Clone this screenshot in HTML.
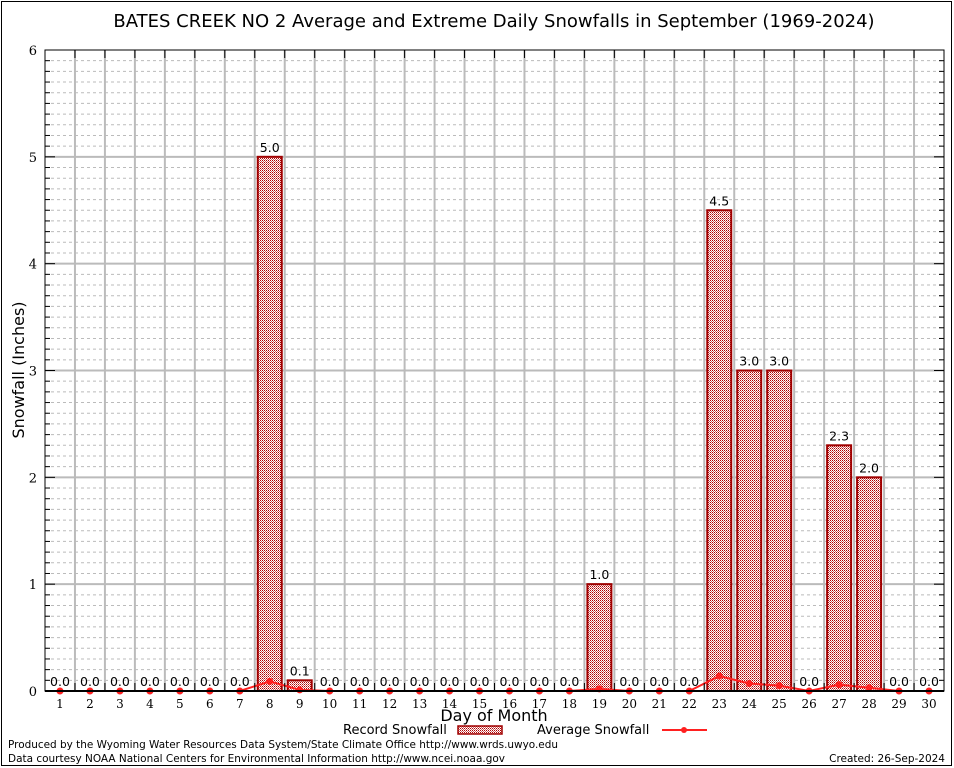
<!DOCTYPE html>
<html><head><meta charset="utf-8"><style>
html,body{margin:0;padding:0;background:#fff;}
svg{display:block;font-family:"DejaVu Sans","Liberation Sans",sans-serif;}
</style></head><body>
<svg id="chart" width="954" height="768" xmlns="http://www.w3.org/2000/svg">
<defs>
<pattern id="chk" width="2" height="2" patternUnits="userSpaceOnUse">
<rect width="2" height="2" fill="#fff"/><rect width="1" height="1" fill="#b00000"/><rect x="1" y="1" width="1" height="1" fill="#b00000" opacity="0.6"/>
</pattern>
</defs>
<rect x="1.5" y="1.5" width="950" height="764" fill="none" stroke="#000"/>
<text x="494" y="27" font-size="18" text-anchor="middle" fill="#000">BATES CREEK NO 2 Average and Extreme Daily Snowfalls in September (1969-2024)</text>
<g id="grid"></g>
<g id="bars"></g>
<g id="avg"></g>
<g id="axes"></g>
<text x="24" y="370" font-size="16" text-anchor="middle" transform="rotate(-90 24 370)">Snowfall (Inches)</text>
<text x="494" y="721" font-size="16" text-anchor="middle">Day of Month</text>
<g>
<text x="343" y="734" font-size="13">Record Snowfall</text>
<rect x="458" y="726" width="44" height="8" fill="url(#chk)" stroke="#a00000" stroke-width="1.5"/>
<text x="537" y="734" font-size="13">Average Snowfall</text>
<line x1="662" y1="730" x2="707" y2="730" stroke="#ff2020" stroke-width="2"/>
<circle cx="684" cy="730" r="3" fill="#ff2020"/>
</g>
<text x="8" y="748" font-size="10.5" textLength="550" lengthAdjust="spacingAndGlyphs">Produced by the Wyoming Water Resources Data System/State Climate Office http://www.wrds.uwyo.edu</text>
<text x="8" y="762" font-size="10.5" textLength="497" lengthAdjust="spacingAndGlyphs">Data courtesy NOAA National Centers for Environmental Information http://www.ncei.noaa.gov</text>
<text x="945" y="762" font-size="10.5" text-anchor="end">Created: 26-Sep-2024</text>
</svg>
<script>
const days = [1,2,3,4,5,6,7,8,9,10,11,12,13,14,15,16,17,18,19,20,21,22,23,24,25,26,27,28,29,30];
const recordValues = [0,0,0,0,0,0,0,5.0,0.1,0,0,0,0,0,0,0,0,0,1.0,0,0,0,4.5,3.0,3.0,0,2.3,2.0,0,0];
const averageValues = [0,0,0,0,0,0,0,0.09,0.01,0,0,0,0,0,0,0,0,0,0.02,0,0,0,0.14,0.07,0.05,0,0.06,0.03,0,0];
const yTicks = [0,1,2,3,4,5,6];

const NS="http://www.w3.org/2000/svg";
const X0=45,X1=944,Y0=691,YT=50,YMAX=6;
const step=(X1-X0)/days.length;
function xs(d){return X0+(d-0.5)*step;}
function ys(v){return Y0-(v/YMAX)*(Y0-YT);}
function mk(tag,attrs,parent){const e=document.createElementNS(NS,tag);for(const k in attrs)e.setAttribute(k,attrs[k]);parent.appendChild(e);return e;}
const grid=document.getElementById('grid'),bars=document.getElementById('bars'),avg=document.getElementById('avg'),axes=document.getElementById('axes');

for(let i=1;i<YMAX*10;i++){if(i%10===0)continue;const y=ys(i/10);
 const l=mk('line',{x1:X0,x2:X1,y1:y,y2:y,stroke:'#bbb','stroke-dasharray':'3,3','stroke-width':1},grid);
 
 
 mk('line',{x1:X0,x2:X0+5,y1:y,y2:y,stroke:'#000'},axes);
 mk('line',{x1:X1-5,x2:X1,y1:y,y2:y,stroke:'#000'},axes);
}
yTicks.forEach(t=>{const y=ys(t);
 if(t>0&&t<YMAX){const l=mk('line',{x1:X0,x2:X1,y1:y,y2:y,stroke:'#bbb','stroke-width':2},grid);
 
 }
 mk('line',{x1:X0,x2:X0+10,y1:y,y2:y,stroke:'#000'},axes);
 mk('line',{x1:X1-10,x2:X1,y1:y,y2:y,stroke:'#000'},axes);
 const tx=mk('text',{x:X0-8,y:y+5,'font-size':13,'text-anchor':'end','font-family':'"DejaVu Serif","Liberation Serif",serif'},axes);tx.textContent=t;
 
 
});
for(let i=1;i<days.length;i++){const x=X0+i*step;
 const l=mk('line',{x1:x,x2:x,y1:YT,y2:Y0,stroke:'#bbb','stroke-width':2},grid);
 
 
 mk('line',{x1:x,x2:x,y1:YT,y2:YT+8,stroke:'#000'},axes);
 mk('line',{x1:x,x2:x,y1:Y0-8,y2:Y0,stroke:'#000'},axes);
}
days.forEach((d,i)=>{const v=recordValues[i];const x=xs(d);
 if(v>0){const r=mk('rect',{x:x-12,y:ys(v),width:24,height:Y0-ys(v),fill:'url(#chk)',stroke:'#a00000','stroke-width':2},bars);
 
 }
 const t=mk('text',{x:x,y:ys(v)-5,'font-size':12.5,'text-anchor':'middle'},bars);t.textContent=v.toFixed(1);
 
 
 const xl=mk('text',{x:x,y:Y0+17,'font-size':12,'text-anchor':'middle','font-family':'"DejaVu Serif","Liberation Serif",serif'},axes);xl.textContent=d;
 
 
});
const pts=days.map((d,i)=>xs(d)+','+ys(averageValues[i])).join(' ');
const pl=mk('polyline',{points:pts,fill:'none',stroke:'#ff2020','stroke-width':2},avg);


days.forEach((d,i)=>{const c=mk('circle',{cx:xs(d),cy:ys(averageValues[i]),r:3.5,fill:'#ff2020'},avg);
 
 });
const fr=mk('rect',{x:X0,y:YT,width:X1-X0,height:Y0-YT,fill:'none',stroke:'#000','stroke-width':1},axes);


mk('line',{x1:X0,x2:X1,y1:Y0,y2:Y0,stroke:'#000','stroke-width':2},axes);
</script>
</body></html>
